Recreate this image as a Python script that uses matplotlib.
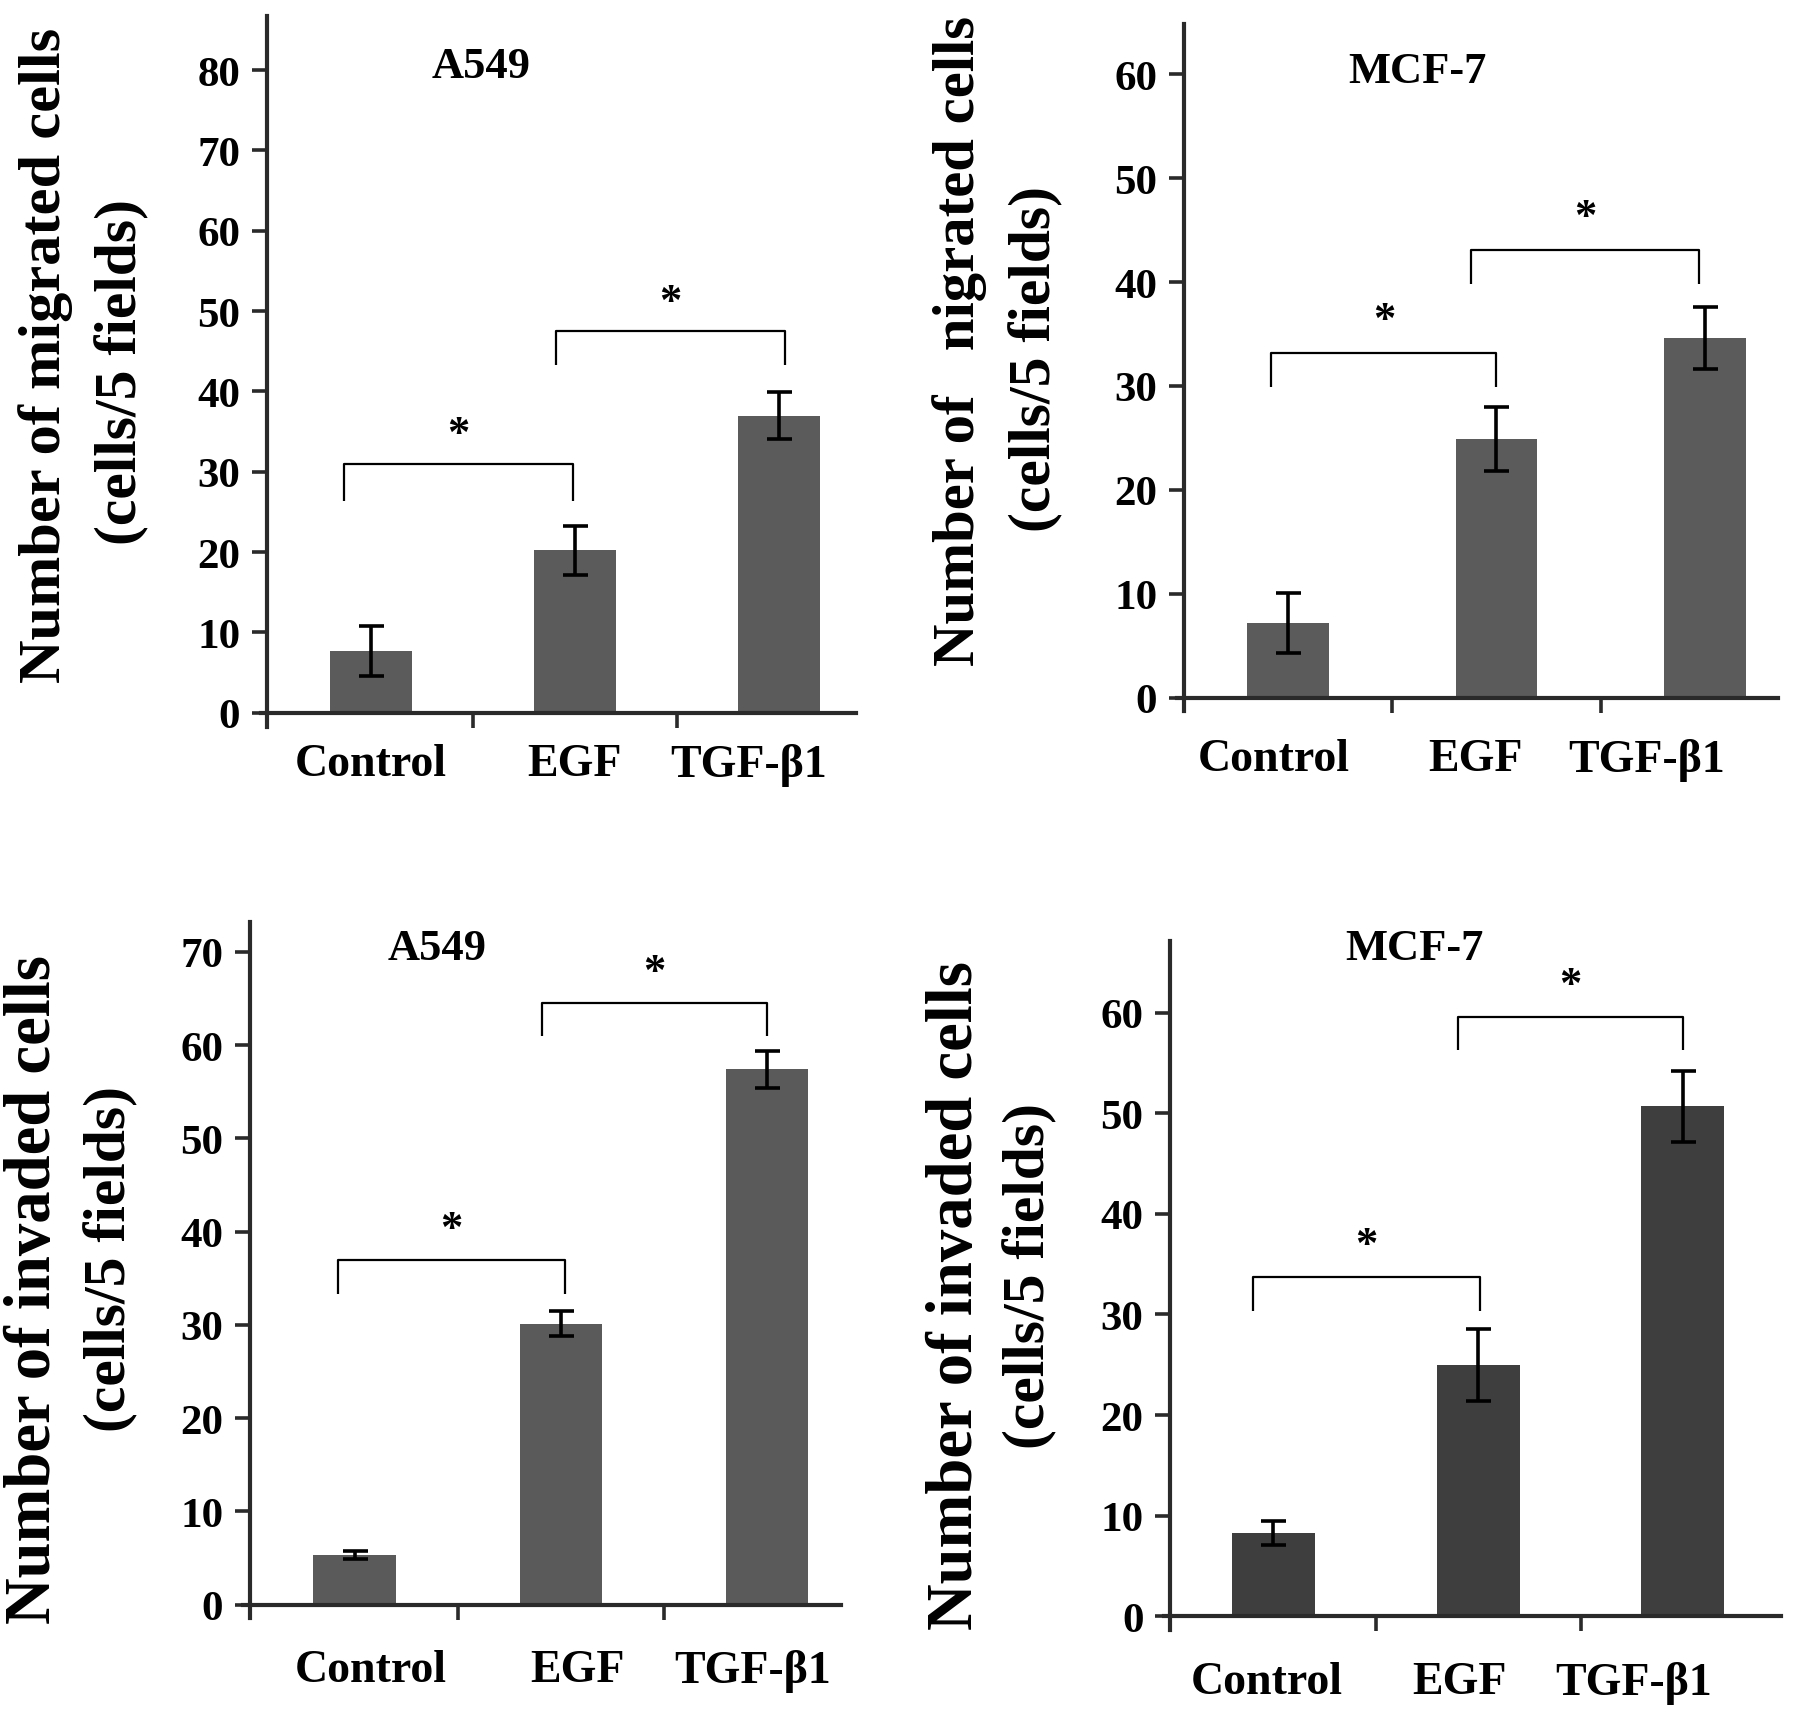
import matplotlib
matplotlib.use('Agg')
import matplotlib.pyplot as plt

plt.rcParams['font.family'] = ['Liberation Serif', 'DejaVu Serif']
plt.rcParams['font.weight'] = 'bold'

categories = ['Control', 'EGF', 'TGF-β1']

mig_a549 = [7.7, 20.2, 37.0]
mig_a549_err = [3.1, 3.1, 2.9]
mig_mcf7 = [7.2, 24.9, 34.6]
mig_mcf7_err = [2.9, 3.1, 3.0]
inv_a549 = [5.3, 30.1, 57.4]
inv_a549_err = [0.4, 1.35, 2.0]
inv_mcf7 = [8.3, 25.0, 50.7]
inv_mcf7_err = [1.2, 3.6, 3.5]

titles = ['A549', 'MCF-7', 'A549', 'MCF-7']
ylabels1 = ['Number of migrated cells', 'Number of   nigrated cells',
            'Number of invaded cells', 'Number of invaded cells']
ylabel2 = '(cells/5 fields)'

# significance brackets: (x_left, x_right, y_bar, y_drop)
brackets = [
    [(-0.13, 0.99, 31.0, 26.4), (0.91, 2.03, 47.5, 43.3)],
    [(-0.08, 1.00, 33.2, 29.9), (0.88, 1.97, 43.1, 39.8)],
    [(-0.08, 1.02, 36.9, 33.3), (0.91, 2.00, 64.5, 61.0)],
    [(-0.10, 1.01, 33.7, 30.3), (0.90, 2.00, 59.6, 56.3)],
]

W, H = 1568.0, 1500.0
panels = [
    dict(vals=mig_a549, err=mig_a549_err, x0=233, x1=748, yz=621, yt=15, ymax=86.7,
         xlim=(-0.51, 2.38), ymaxtick=80, color='#5b5b5b', bw=0.40,
         title_xy=(0.54, 80.5), lab_x=[0.0, 1.0, 1.85], lab_pad=22,
         yl1=(40, 309), yl2=(107, 324), ylfs=43.5),
    dict(vals=mig_mcf7, err=mig_mcf7_err, x0=1034, x1=1553, yz=608, yt=22, ymax=64.8,
         xlim=(-0.50, 2.35), ymaxtick=60, color='#5b5b5b', bw=0.39,
         title_xy=(0.62, 60.3), lab_x=[-0.07, 0.90, 1.72], lab_pad=29,
         yl1=(838, 297), yl2=(905, 312), ylfs=42.3),
    dict(vals=inv_a549, err=inv_a549_err, x0=218, x1=735, yz=1397, yt=803, ymax=73.2,
         xlim=(-0.51, 2.36), ymaxtick=70, color='#5a5a5a', bw=0.40,
         title_xy=(0.40, 70.4), lab_x=[0.08, 1.08, 1.93], lab_pad=32,
         yl1=(30, 1122), yl2=(97, 1095), ylfs=46.5),
    dict(vals=inv_mcf7, err=inv_mcf7_err, x0=1022, x1=1556, yz=1407, yt=820, ymax=67.1,
         xlim=(-0.505, 2.48), ymaxtick=60, color='#3e3e3e', bw=0.405,
         title_xy=(0.69, 66.4), lab_x=[-0.03, 0.91, 1.76], lab_pad=32,
         yl1=(835, 1127), yl2=(900, 1110), ylfs=46.5),
]

fig = plt.figure(figsize=(17.95, 17.24), dpi=100)

for i, p in enumerate(panels):
    ybot = -p['ymax'] * 0.02
    zero_f = 1 - p['yz'] / H
    top_f = 1 - p['yt'] / H
    scale = (top_f - zero_f) / p['ymax']
    bottom_f = zero_f + ybot * scale
    left_f = p['x0'] / W
    width_f = (p['x1'] - p['x0']) / W
    ax = fig.add_axes([left_f, bottom_f, width_f, top_f - bottom_f])
    xs = list(range(len(categories)))
    ax.bar(xs, p['vals'], width=p['bw'], color=p['color'], zorder=2)
    ax.errorbar(xs, p['vals'], yerr=p['err'], fmt='none', ecolor='black',
                elinewidth=2.6, capsize=9, capthick=2.6, zorder=3)
    ax.set_xlim(*p['xlim'])
    ax.set_ylim(ybot, p['ymax'])
    for s in ['top', 'right']:
        ax.spines[s].set_visible(False)
    ax.spines['bottom'].set_position(('data', 0))
    ax.spines['left'].set_bounds(ybot, p['ymax'])
    for s in ['left', 'bottom']:
        ax.spines[s].set_linewidth(3.0)
        ax.spines[s].set_color('#2a2a2a')
    ax.spines['bottom'].set_bounds(p['xlim'][0] - 0.03, p['xlim'][1])
    ax.set_yticks(range(0, p['ymaxtick'] + 1, 10))
    ax.tick_params(axis='y', direction='out', length=11, width=2.6, color='#2a2a2a',
                   labelsize=31, pad=8)
    for lab in ax.get_yticklabels():
        lab.set_fontweight('bold')
    ax.set_xticks(p['lab_x'])
    ax.set_xticklabels(categories, fontsize=33, fontweight='bold')
    ax.tick_params(axis='x', length=0, pad=p['lab_pad'])
    ax.set_xticks([0.5, 1.5], minor=True)
    ax.tick_params(axis='x', which='minor', direction='out', length=11, width=2.6,
                   color='#2a2a2a')
    ax.patch.set_alpha(0)
    ax.text(p['title_xy'][0], p['title_xy'][1], titles[i], ha='center', va='center',
            fontsize=32, fontweight='bold')
    for (xa, xb, yb, yd) in brackets[i]:
        ax.plot([xa, xa, xb, xb], [yd, yb, yb, yd], color='black', lw=1.6,
                solid_capstyle='butt', zorder=4)
        ax.text((xa + xb) / 2, yb + 1.2, '*', ha='center', va='bottom',
                fontsize=32, fontweight='bold')
    fig.text(p['yl1'][0] / W, 1 - p['yl1'][1] / H, ylabels1[i], rotation=90,
             ha='center', va='center', fontsize=p['ylfs'], fontweight='bold')
    fig.text(p['yl2'][0] / W, 1 - p['yl2'][1] / H, ylabel2, rotation=90,
             ha='center', va='center', fontsize=43, fontweight='bold')

fig.savefig('out.png', dpi=100, facecolor='white')
